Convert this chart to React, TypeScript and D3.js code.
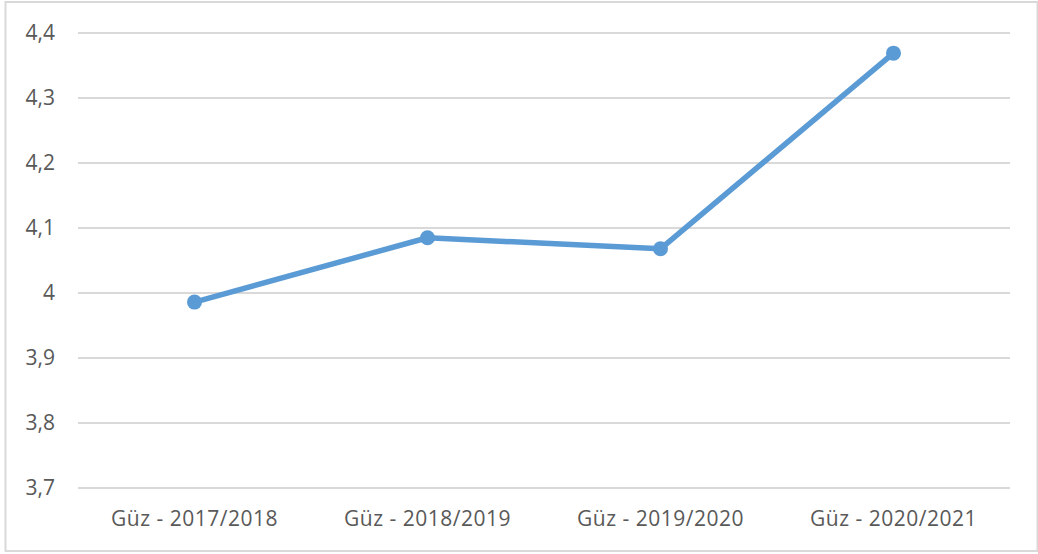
import * as d3 from "d3";

const categories = ["Güz - 2017/2018", "Güz - 2018/2019", "Güz - 2019/2020", "Güz - 2020/2021"];
const values = [3.986, 4.085, 4.068, 4.369];
const yTicks = [3.7, 3.8, 3.9, 4.0, 4.1, 4.2, 4.3, 4.4];

const W = 1038;
const H = 554;
const margin = { top: 33, right: 28, bottom: 66, left: 78 };

export default function App() {
  const x = d3
    .scaleBand()
    .domain(categories)
    .range([margin.left, W - margin.right]);

  const y = d3
    .scaleLinear()
    .domain([3.7, 4.4])
    .range([H - margin.bottom, margin.top]);

  const fmt = (v: number) => (Number.isInteger(v) ? String(v) : v.toFixed(1).replace(".", ","));

  const line = d3
    .line<number>()
    .x((_, i) => x(categories[i])! + x.bandwidth() / 2)
    .y((d) => y(d));

  return (
    <div style={{ position: "absolute", left: 0, top: 0 }}>
      <svg width={W} height={H} style={{ display: "block", background: "#fff" }} fontFamily="'Open Sans', 'Noto Sans', sans-serif">
        {/* chart frame */}
        <rect x={5.5} y={2} width={W - 6} height={H - 5} fill="none" stroke="#d9d9d9" strokeWidth={2} />

        {/* grid */}
        {yTicks.map((t) => (
          <line key={t} x1={margin.left} x2={W - margin.right} y1={y(t)} y2={y(t)} stroke="#d9d9d9" strokeWidth={2} />
        ))}

        {/* y labels */}
        {yTicks.map((t) => (
          <text key={t} x={55} y={y(t)} dy="0.35em" textAnchor="end" fontSize={21} fill="#595959">
            {fmt(t)}
          </text>
        ))}

        {/* x labels */}
        {categories.map((c) => (
          <text key={c} x={x(c)! + x.bandwidth() / 2} y={519} dy="0.35em" textAnchor="middle" fontSize={21} letterSpacing={0.5} fill="#595959">
            {c}
          </text>
        ))}

        <path d={line(values)!} fill="none" stroke="#5b9bd5" strokeWidth={5.5} strokeLinejoin="round" strokeLinecap="round" />
        {values.map((v, i) => (
          <circle key={i} cx={x(categories[i])! + x.bandwidth() / 2} cy={y(v)} r={7.5} fill="#5b9bd5" />
        ))}
      </svg>
    </div>
  );
}
